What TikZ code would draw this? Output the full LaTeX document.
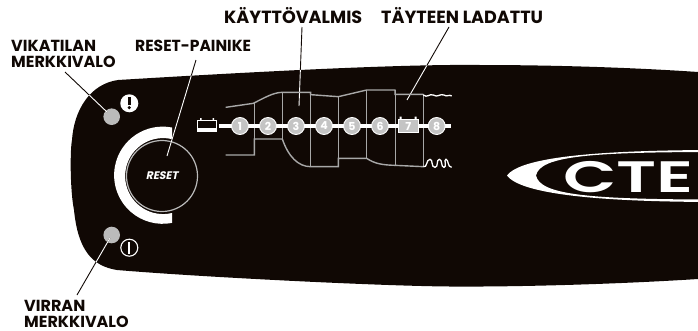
\documentclass[tikz,border=0pt]{standalone}
\usepackage{fontspec}
\setmainfont{Poppins}[BoldFont={* Bold}]
\newfontfamily\lblfont{Poppins Bold}
\newfontfamily\slantfont{Poppins Bold}[FakeSlant=0.2]
\newfontfamily\logofont{Poppins SemiBold}
\definecolor{bodyblk}{HTML}{100804}
\definecolor{ledgray}{HTML}{BBBBBB}
\definecolor{chartgray}{HTML}{A8A8A8}
\definecolor{dotgray}{HTML}{C4C4C4}
\tikzset{
  lbl/.style={text=bodyblk,inner sep=0pt,align=left,anchor=west},
  lblsm/.style={lbl,font=\lblfont\fontsize{16}{16}\selectfont},
  lblbig/.style={lbl,font=\lblfont\fontsize{17.6}{18}\selectfont},
  lead/.style={line width=0.9pt},
  curve/.style={draw=chartgray,line width=1.4pt},
  sep/.style={draw=chartgray,line width=1pt},
  wave/.style={draw=white,line width=1.3pt},
  stepdot/.style={circle,fill=dotgray,draw=white,line width=0.9pt,minimum size=17pt,inner sep=0pt,text=white,font=\lblfont\fontsize{11}{11}\selectfont},
  led/.style={circle,fill=ledgray,minimum size=16.6pt,inner sep=0pt}
}
\newcommand{\bodypath}{(698,72) -- (698,279) .. controls (620,284) and (520,287) .. (450,286.5) .. controls (380,286) and (200,277) .. (117,270) .. controls (92,266) and (78,250) .. (74,210) .. controls (70,190) and (70,150) .. (72,140) .. controls (74,110) and (90,84) .. (118,80) .. controls (250,72) and (400,64) .. (480,65) .. controls (560,65) and (640,68) .. (698,72) -- cycle}
\begin{document}
\begin{tikzpicture}[x=1pt,y=-1pt]
\useasboundingbox (0,0) rectangle (698,330);
\fill[bodyblk] \bodypath;
% labels
\node[lblsm] (vika) at (11,54) {VIKATILAN\\MERKKIVALO};
\node[lblsm] (reset) at (135,46) {\scalebox{.97}[1]{RESET-PAINIKE}};
\node[lblbig] (kayt) at (224,16) {KÄYTTÖVALMIS};
\node[lblbig] (tayt) at (381,16) {TÄYTEEN LADATTU};
\node[lblsm] (virran) at (24,314) {VIRRAN\\MERKKIVALO};
% logo
\fill[white,even odd rule] (507,175.5) .. controls (520,158) and (590,150) .. (720,150) -- (720,202) .. controls (590,202) and (520,193) .. (507,175.5) -- cycle
 (536,175.5) .. controls (540,156) and (590,152) .. (720,152) -- (720,199.5) .. controls (590,199.5) and (540,195) .. (536,175.5) -- cycle;
\node[inner sep=0pt,anchor=base west,text=white] (logoc) at (563,192) {\scalebox{1.58}[1]{\logofont\fontsize{44}{44}\selectfont CTE}};
% reset
\fill[white] (172,127.5) arc[start angle=-79,end angle=-281,radius=48.6] -- (172,213) arc[start angle=-283.5,end angle=-76.5,radius=38] -- cycle;
\node[circle,draw=ledgray,line width=1.2pt,minimum size=71pt,inner sep=0pt,text=white,font=\slantfont\fontsize{11}{11}\selectfont] (btn) at (162,176) {RESET};
% LEDs
\node[led] (ledtop) at (111.7,116.7) {};
\node[led] (ledbot) at (111.7,235) {};
% icons
\fill[white] (129.3,103.3) circle[radius=9];
\fill[bodyblk] (127.6,96.5) rectangle (131,104.5);
\fill[bodyblk] (129.3,107.6) circle[radius=1.8];
\node[circle,draw=white,line width=1.1pt,minimum size=17pt,inner sep=0pt] (pwr) at (129.3,247.7) {};
\fill[white] (128.4,241.5) rectangle (130.2,254);
% leader lines
\coordinate (a1) at (65,72); \coordinate (a2) at (107,112);
\coordinate (b1) at (196,60); \coordinate (b2) at (167,156);
\coordinate (c1) at (302,27); \coordinate (c2) at (299,106);
\coordinate (d1) at (449,27); \coordinate (d2) at (407,100);
\coordinate (e1) at (77,295); \coordinate (e2) at (110,238);
\draw[lead,bodyblk] (a1)--(a2) (b1)--(b2) (c1)--(c2) (d1)--(d2) (e1)--(e2);
\begin{scope}
\clip \bodypath;
\draw[lead,white] (a1)--(a2) (b1)--(b2) (c1)--(c2) (d1)--(d2) (e1)--(e2);
\end{scope}
% chart
\begin{scope}[shift={(190,60)},x=0.33333pt,y=-0.33333pt]
\draw[sep] (193,130)--(193,237) (277,97)--(277,237) (362,97)--(362,320) (445,110)--(445,320) (530,90)--(530,295) (615,90)--(615,317) (700,103)--(700,320);
\draw[curve] (107,142) -- (190,130) .. controls (220,115) and (250,97) .. (277,97) -- (362,97) -- (362,104) -- (445,110) -- (530,90) -- (615,90) -- (615,103) -- (700,103);
\draw[curve] (107,285) -- (193,285) -- (193,237) -- (277,237) .. controls (295,290) and (325,320) .. (362,320) -- (445,320) -- (445,295) -- (530,295) .. controls (555,312) and (580,315) .. (615,316) -- (700,320);
\draw[wave] (700,105) .. controls (712,115) and (718,100) .. (730,105) .. controls (742,114) and (750,100) .. (762,105) .. controls (770,112) and (778,102) .. (785,108);
\draw[wave] (700,320) .. controls (712,325) and (708,298) .. (720,298) .. controls (730,298) and (722,322) .. (735,322) .. controls (746,322) and (738,298) .. (748,298) .. controls (758,298) and (752,322) .. (762,322) .. controls (772,322) and (760,298) .. (768,298) .. controls (776,298) and (772,322) .. (785,322);
\draw[white,line width=3.2pt] (88,198) -- (782,198);
\end{scope}
% battery icon left
\draw[white,line width=1pt,fill=bodyblk] (197.5,120.5) rectangle (216.5,131.5);
\fill[white] (197.5,128) rectangle (216.5,132);
\fill[white] (200,118) rectangle (201.5,120.5) (212.5,118) rectangle (214,120.5);
% numbered steps
\node[stepdot] (s1) at (240,126) {1};
\node[stepdot] (s2) at (268,126) {2};
\node[stepdot] (s3) at (296,126) {3};
\node[stepdot] (s4) at (324,126) {4};
\node[stepdot] (s5) at (352,126) {5};
\node[stepdot] (s6) at (380,126) {6};
\fill[white] (399.5,116.5) rectangle (401.5,120) (414.5,116.5) rectangle (416.5,120);
\node[draw=white,line width=0.9pt,fill=dotgray,text=white,minimum width=20.5pt,minimum height=13pt,inner sep=0pt,font=\lblfont\fontsize{11}{11}\selectfont] (s7) at (408.3,126) {7};
\node[stepdot] (s8) at (436.7,126) {8};
\end{tikzpicture}
\end{document}
